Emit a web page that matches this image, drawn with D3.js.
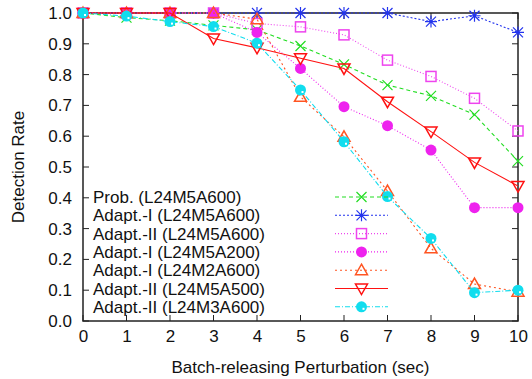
<!DOCTYPE html>
<html>
<head>
<meta charset="utf-8">
<script src="https://cdn.jsdelivr.net/npm/d3@7/dist/d3.min.js"></script>
<style>
  html, body { margin: 0; padding: 0; background: #fff; }
  svg { display: block; font-family: "Liberation Sans", Arial, Helvetica, sans-serif; }
</style>
</head>
<body>
<svg id="chart" width="532" height="379"></svg>
<script>
// Perturbation (sec) on the x axis
const perturbation = [0, 1, 2, 3, 4, 5, 6, 7, 8, 9, 10];
const xTicks = [0, 1, 2, 3, 4, 5, 6, 7, 8, 9, 10];
const yTicks = [0, 0.1, 0.2, 0.3, 0.4, 0.5, 0.6, 0.7, 0.8, 0.9, 1.0];

// Detection rate for each scheme / parameter set
const probL24M5A600   = [1.0, 0.985, 0.975, 0.96, 0.945, 0.893, 0.833, 0.766, 0.731, 0.670, 0.519];
const adaptIL24M5A600 = [1.0, 1.0, 1.0, 1.0, 1.0, 1.0, 1.0, 1.0, 0.972, 0.991, 0.937];
const adaptIIL24M5A600 = [1.0, 1.0, 1.0, 1.0, 0.966, 0.955, 0.929, 0.847, 0.794, 0.723, 0.617];
const adaptIL24M5A200 = [1.0, 1.0, 1.0, 1.0, 0.937, 0.820, 0.696, 0.634, 0.555, 0.368, 0.368];
const adaptIL24M2A600 = [1.0, 1.0, 1.0, 1.0, 0.98, 0.728, 0.598, 0.422, 0.236, 0.120, 0.095];
const adaptIIL24M5A500 = [1.0, 1.0, 1.0, 0.917, 0.887, 0.853, 0.820, 0.712, 0.615, 0.515, 0.438];
const adaptIIL24M3A600 = [1.0, 0.99, 0.972, 0.956, 0.902, 0.750, 0.582, 0.404, 0.268, 0.092, 0.100];

const seriesNames = [
  "Prob. (L24M5A600)",
  "Adapt.-I (L24M5A600)",
  "Adapt.-II (L24M5A600)",
  "Adapt.-I (L24M5A200)",
  "Adapt.-I (L24M2A600)",
  "Adapt.-II (L24M5A500)",
  "Adapt.-II (L24M3A600)"
];
const seriesValues = [probL24M5A600, adaptIL24M5A600, adaptIIL24M5A600, adaptIL24M5A200,
                      adaptIL24M2A600, adaptIIL24M5A500, adaptIIL24M3A600];

const styles = [
  { color: "#22dd22", dash: "4,3",     marker: "cross" },
  { color: "#2233ee", dash: "2,2",     marker: "star" },
  { color: "#ee44ee", dash: "1,2",     marker: "square" },
  { color: "#ee22ee", dash: "1,2",     marker: "dot" },
  { color: "#ff5522", dash: "2,3",     marker: "triangleUp" },
  { color: "#ff1111", dash: null,      marker: "triangleDown" },
  { color: "#11ddee", dash: "5,2,1,2", marker: "ring" }
];

const fontSize = 17;
const svg = d3.select("#chart");
const plotL = 83, plotR = 518, plotT = 13, plotB = 321;

const x = d3.scaleLinear().domain([0, 10]).range([plotL, plotR]);
const y = d3.scaleLinear().domain([0, 1]).range([plotB, plotT]);

// Axis tick labels
const fmt = d3.format(".1f");
svg.append("g")
  .attr("transform", `translate(${plotL},0)`)
  .call(d3.axisLeft(y).tickValues(yTicks).tickFormat(fmt).tickSize(0).tickPadding(11))
  .call(g => g.select(".domain").remove())
  .call(g => g.selectAll("text").attr("font-size", fontSize).attr("fill", "#111")
    .attr("font-family", "Liberation Sans, Arial, sans-serif"));

svg.append("g")
  .attr("transform", `translate(0,${plotB})`)
  .call(d3.axisBottom(x).tickValues(xTicks).tickFormat(d3.format("d")).tickSize(0).tickPadding(9))
  .call(g => g.select(".domain").remove())
  .call(g => g.selectAll("text").attr("font-size", fontSize).attr("fill", "#111")
    .attr("font-family", "Liberation Sans, Arial, sans-serif"));

// Inward ticks, mirrored on all four sides
const tickLen = 6;
const tg = svg.append("g").attr("stroke", "#222").attr("stroke-width", 1);
yTicks.forEach(v => {
  tg.append("line").attr("x1", plotL).attr("x2", plotL + tickLen).attr("y1", y(v)).attr("y2", y(v));
  tg.append("line").attr("x1", plotR).attr("x2", plotR - tickLen).attr("y1", y(v)).attr("y2", y(v));
});
xTicks.forEach(v => {
  tg.append("line").attr("x1", x(v)).attr("x2", x(v)).attr("y1", plotB).attr("y2", plotB - tickLen);
  tg.append("line").attr("x1", x(v)).attr("x2", x(v)).attr("y1", plotT).attr("y2", plotT + tickLen);
});

// Plot border
svg.append("rect")
  .attr("x", plotL).attr("y", plotT)
  .attr("width", plotR - plotL).attr("height", plotB - plotT)
  .attr("fill", "none").attr("stroke", "#222").attr("stroke-width", 1.5);

// Axis titles
svg.append("text")
  .attr("x", (plotL + plotR) / 2).attr("y", 373)
  .attr("text-anchor", "middle").attr("font-size", fontSize).attr("fill", "#111")
  .text("Batch-releasing Perturbation (sec)");
svg.append("text")
  .attr("transform", `translate(24,${(plotT + plotB) / 2}) rotate(-90)`)
  .attr("text-anchor", "middle").attr("font-size", fontSize).attr("fill", "#111")
  .text("Detection Rate");

// Point symbols
function drawMarker(g, type, cx, cy, color) {
  const s = 5;
  switch (type) {
    case "cross":
      g.append("path").attr("d", `M${cx - s},${cy - s}L${cx + s},${cy + s}M${cx - s},${cy + s}L${cx + s},${cy - s}`)
        .attr("stroke", color).attr("stroke-width", 1.2).attr("fill", "none");
      break;
    case "star":
      g.append("path").attr("d",
        `M${cx - s},${cy - s}L${cx + s},${cy + s}M${cx - s},${cy + s}L${cx + s},${cy - s}` +
        `M${cx - s - 1},${cy}L${cx + s + 1},${cy}M${cx},${cy - s - 1}L${cx},${cy + s + 1}`)
        .attr("stroke", color).attr("stroke-width", 1.2).attr("fill", "none");
      break;
    case "square":
      g.append("rect").attr("x", cx - s).attr("y", cy - s).attr("width", 2 * s).attr("height", 2 * s)
        .attr("stroke", color).attr("stroke-width", 1.5).attr("fill", "none");
      break;
    case "dot":
      g.append("circle").attr("cx", cx).attr("cy", cy).attr("r", 5.5).attr("fill", color);
      break;
    case "triangleUp":
      g.append("path").attr("d", `M${cx},${cy - 6}L${cx + 6},${cy + 4.5}L${cx - 6},${cy + 4.5}Z`)
        .attr("stroke", color).attr("stroke-width", 1.5).attr("fill", "none");
      break;
    case "triangleDown":
      g.append("path").attr("d", `M${cx},${cy + 6}L${cx + 6},${cy - 4.5}L${cx - 6},${cy - 4.5}Z`)
        .attr("stroke", color).attr("stroke-width", 1.5).attr("fill", "none");
      break;
    case "ring":
      g.append("circle").attr("cx", cx).attr("cy", cy).attr("r", 5.5).attr("fill", color);
      g.append("rect").attr("x", cx + 1).attr("y", cy + 1).attr("width", 2).attr("height", 2).attr("fill", "#fff");
      break;
  }
}

const line = d3.line().x((d, i) => x(perturbation[i])).y(d => y(d));

// Series lines and points, in legend order
const plot = svg.append("g");
seriesValues.forEach((vals, k) => {
  const st = styles[k];
  const g = plot.append("g");
  g.append("path").datum(vals).attr("d", line)
    .attr("fill", "none").attr("stroke", st.color).attr("stroke-width", 1.1)
    .attr("stroke-dasharray", st.dash);
  vals.forEach((v, i) => drawMarker(g, st.marker, x(perturbation[i]), y(v), st.color));
});

// Legend
const legend = svg.append("g");
const legendTop = 197, legendStep = 18.3;
seriesNames.forEach((name, k) => {
  const st = styles[k];
  const ly = legendTop + k * legendStep;
  legend.append("text").attr("x", 93).attr("y", ly + 6)
    .attr("font-size", fontSize).attr("fill", "#111").text(name);
  legend.append("line").attr("x1", 335).attr("x2", 388).attr("y1", ly).attr("y2", ly)
    .attr("stroke", st.color).attr("stroke-width", 1.1).attr("stroke-dasharray", st.dash);
  drawMarker(legend, st.marker, 361.5, ly, st.color);
});
</script>
</body>
</html>
